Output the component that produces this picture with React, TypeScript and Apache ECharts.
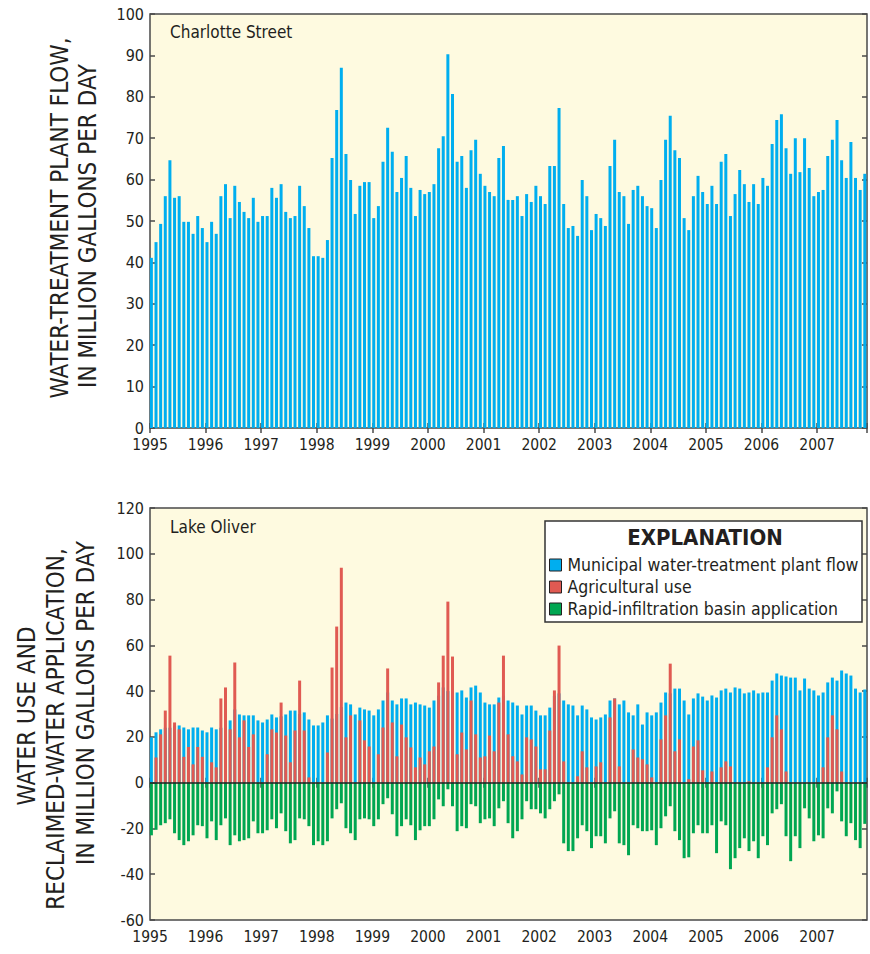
import React, { useEffect, useRef } from "react";
import * as echarts from "echarts";

const START_YEAR = 1995;
const yearTicks = [1995, 1996, 1997, 1998, 1999, 2000, 2001, 2002, 2003, 2004, 2005, 2006, 2007];

// Charlotte Street water-treatment plant flow, monthly from Jan 1995 (Mgal/d)
const charlotteStreet = [
  41.1, 44.9, 49.3, 56.0, 64.7, 55.6, 56.0, 49.8, 49.8, 46.9, 51.2, 48.3,
  44.9, 49.8, 46.9, 56.0, 58.9, 50.7, 58.5, 54.6, 52.2, 50.7, 55.6, 49.8,
  51.2, 51.2, 58.0, 55.6, 58.9, 52.2, 50.7, 51.2, 58.5, 53.6, 48.3, 41.5,
  41.5, 41.1, 45.4, 65.2, 76.8, 87.0, 66.2, 59.9, 51.7, 58.5, 59.4, 59.4,
  50.7, 53.6, 64.3, 72.5, 66.7, 57.0, 60.4, 65.7, 58.0, 51.2, 57.5, 56.5,
  57.0, 58.9, 67.6, 70.5, 90.3, 80.7, 64.3, 65.7, 58.0, 67.1, 69.6, 61.4,
  58.5, 57.0, 56.0, 65.2, 68.1, 55.1, 55.1, 56.0, 51.2, 56.5, 54.6, 58.5,
  56.0, 54.1, 63.3, 63.3, 77.3, 54.1, 48.3, 48.8, 46.4, 59.9, 56.0, 47.8,
  51.7, 50.7, 48.8, 63.3, 69.6, 57.0, 56.0, 49.3, 57.5, 58.5, 56.0, 53.6,
  53.1, 48.3, 59.9, 69.6, 75.4, 67.1, 65.2, 50.7, 47.8, 56.0, 60.9, 57.0,
  54.1, 58.5, 54.1, 64.3, 66.2, 51.2, 56.5, 62.3, 58.9, 54.6, 58.9, 54.1,
  60.4, 58.5, 68.6, 74.4, 75.8, 67.6, 61.4, 70.0, 61.8, 70.0, 62.8, 56.0,
  57.0, 57.5, 65.7, 69.6, 74.4, 64.7, 60.4, 69.1, 60.4, 57.5, 61.4,
];

// Lake Oliver, monthly from Jan 1995 (Mgal/d)
const municipal = [
  19.8, 22.0, 23.3, 24.0, 24.0, 25.0, 25.0, 24.1, 23.3, 24.1, 24.1, 22.8,
  22.0, 24.1, 23.3, 24.0, 25.0, 27.2, 32.0, 29.8, 29.4, 29.4, 29.4, 27.2,
  26.3, 27.6, 29.8, 28.5, 29.0, 29.8, 31.5, 31.5, 30.0, 30.7, 27.6, 25.0,
  25.0, 26.3, 29.4, 28.0, 30.0, 33.0, 35.0, 34.2, 29.8, 32.8, 32.0, 31.5,
  29.4, 32.0, 35.9, 39.4, 35.9, 34.2, 36.8, 36.8, 34.2, 35.0, 34.2, 33.7,
  32.8, 35.9, 38.0, 41.6, 40.0, 38.0, 39.4, 40.3, 37.2, 41.6, 42.4, 39.4,
  35.0, 34.2, 34.2, 37.2, 38.0, 35.9, 35.0, 33.7, 29.8, 33.7, 33.7, 31.5,
  29.4, 29.4, 32.8, 38.0, 39.0, 35.9, 34.2, 33.7, 29.4, 33.7, 32.0, 28.5,
  27.6, 28.5, 29.8, 35.9, 36.8, 34.2, 35.9, 30.7, 29.4, 34.2, 25.4, 30.7,
  29.4, 30.7, 35.0, 39.4, 39.0, 41.1, 41.1, 35.9, 29.8, 36.8, 39.0, 37.6,
  35.9, 38.1, 37.2, 40.3, 41.1, 39.4, 41.6, 41.1, 39.0, 39.4, 40.3, 39.0,
  39.4, 39.4, 44.6, 47.7, 46.8, 46.4, 45.9, 45.9, 40.3, 45.5, 41.1, 40.3,
  38.1, 39.4, 43.8, 45.9, 44.6, 49.0, 47.7, 46.8, 41.1, 39.4, 40.7,
];

const agricultural = [
  0, 11.0, 21.1, 31.5, 55.5, 26.3, 23.3, 11.3, 15.6, 8.0, 15.6, 11.3,
  0, 8.9, 6.7, 36.8, 41.6, 23.3, 52.5, 19.8, 27.2, 15.6, 21.1, 0,
  0, 12.4, 23.3, 21.9, 35.0, 20.6, 8.9, 22.8, 44.6, 22.8, 2.3, 0,
  0, 0, 13.2, 50.3, 68.2, 93.9, 19.8, 29.4, 0, 27.2, 18.5, 15.8,
  0, 12.4, 24.1, 49.9, 26.3, 11.5, 25.4, 19.8, 15.4, 6.7, 11.0, 8.0,
  13.7, 15.8, 43.8, 55.5, 79.1, 55.1, 12.4, 21.9, 14.5, 35.9, 21.1, 11.0,
  11.5, 20.6, 13.7, 35.0, 55.5, 21.1, 11.5, 9.3, 3.6, 19.8, 18.9, 15.8,
  5.8, 5.8, 22.8, 40.3, 59.9, 9.3, 0, 0, 2.8, 13.7, 6.7, 0,
  7.1, 8.9, 0, 28.5, 36.8, 7.1, 0, 0, 14.5, 11.0, 10.2, 8.0,
  2.3, 0, 18.9, 29.4, 52.0, 13.7, 18.9, 0, 1.5, 15.8, 18.5, 5.4,
  0, 4.9, 0, 6.7, 9.3, 7.1, 0, 0, 0, 0.6, 0, 0,
  0, 6.7, 19.8, 29.4, 23.3, 4.9, 0, 0, 0, 0, 0, 0,
  0, 6.7, 19.8, 29.4, 23.3, 4.9, 0, 0, 0, 0, 0,
];

const rapidInfiltration = [
  -23.0, -20.6, -18.6, -17.7, -16.0, -22.1, -25.1, -27.3, -25.6, -23.0, -18.6, -19.0,
  -24.3, -16.9, -25.1, -18.6, -15.6, -27.3, -23.0, -25.6, -25.1, -24.3, -16.9, -22.1,
  -22.1, -20.8, -16.0, -19.9, -13.4, -21.2, -26.5, -25.1, -15.6, -16.0, -19.0, -27.3,
  -25.6, -27.3, -25.6, -15.6, -11.6, -9.0, -19.9, -22.1, -25.1, -16.0, -15.6, -16.0,
  -19.0, -16.0, -9.4, -6.8, -13.8, -23.4, -19.0, -16.0, -18.6, -25.1, -20.8, -19.0,
  -19.0, -16.0, -7.3, -10.3, -2.9, -10.3, -21.2, -19.0, -19.9, -9.4, -10.3, -17.7,
  -16.0, -15.6, -19.0, -11.2, -8.1, -17.7, -24.3, -21.2, -16.0, -8.1, -11.6, -11.6,
  -13.4, -15.6, -11.6, -8.1, -5.1, -26.5, -29.9, -29.9, -24.3, -18.6, -21.2, -28.6,
  -23.4, -23.4, -26.5, -15.6, -12.5, -26.5, -27.3, -31.7, -18.6, -19.9, -21.2, -21.2,
  -20.8, -27.3, -19.9, -14.7, -10.3, -21.2, -25.1, -33.0, -32.6, -22.1, -18.6, -22.1,
  -22.1, -18.6, -30.8, -16.9, -18.6, -37.8, -33.0, -28.6, -24.3, -29.9, -25.6, -33.0,
  -23.4, -27.3, -13.4, -11.6, -9.4, -23.4, -34.3, -23.4, -28.6, -11.2, -15.6, -25.6,
  -23.0, -24.3, -11.2, -13.4, -3.8, -16.9, -23.4, -17.7, -25.1, -28.6, -18.0,
];

const legendNames = [
  "Municipal water-treatment plant flow",
  "Agricultural use",
  "Rapid-infiltration basin application",
];

const FONT = "'Liberation Sans Narrow', 'DejaVu Sans Condensed', 'Arial Narrow', 'Roboto Condensed', 'Liberation Sans', sans-serif";
const TEXT = "#231f20";
const BG = "#fefae0";
const FRAME = "#4a4a4a";
const BLUE = "#00aeef";
const RED = "#e05a52";
const GREEN = "#00a651";
const PX_PER_YEAR = 55.9;
const PLOT_W = 721;
const X_MAX = START_YEAR + PLOT_W / PX_PER_YEAR;

const monthX = (i: number) => START_YEAR + (i + 0.3) / 12;
const toPairs = (arr: number[]) => arr.map((v, i) => [monthX(i), v]);

function xAxes(gridIndex: number) {
  const common = {
    gridIndex,
    type: "value" as const,
    min: START_YEAR,
    max: X_MAX,
    interval: 1,
    splitLine: { show: false },
    axisLine: { show: false },
    axisTick: { inside: true, length: 5, lineStyle: { color: FRAME, width: 1.5 } },
  };
  return [
    {
      ...common,
      position: "bottom",
      axisLabel: {
        color: TEXT,
        fontFamily: FONT,
        fontSize: 15.5,
        lineHeight: 14,
        margin: 10,
        formatter: (v: number) => (yearTicks.includes(v) ? String(v) : ""),
      },
    },
    { ...common, position: "top", axisLabel: { show: false } },
  ];
}

function yAxes(gridIndex: number, min: number, max: number, interval: number) {
  const common = {
    gridIndex,
    type: "value" as const,
    min,
    max,
    interval,
    splitLine: { show: false },
    axisLine: { show: false },
    axisTick: { inside: true, length: 5, lineStyle: { color: FRAME, width: 1.5 } },
  };
  return [
    {
      ...common,
      position: "left",
      axisLabel: { color: TEXT, fontFamily: FONT, fontSize: 16, lineHeight: 13, margin: 6 },
    },
    { ...common, position: "right", axisLabel: { show: false } },
  ];
}

function vText(text: string, x: number, y: number) {
  return {
    type: "text",
    x,
    y,
    rotation: Math.PI / 2,
    style: {
      text,
      fontFamily: FONT,
      fontSize: 24,
      fill: TEXT,
      textAlign: "center",
      textVerticalAlign: "middle",
    },
  };
}

export default function App() {
  const ref = useRef<HTMLDivElement>(null);

  useEffect(() => {
    document.body.style.margin = "0";
    if (!ref.current) return;
    const chart = echarts.init(ref.current, undefined, { renderer: "svg" });
    const barCommon = { type: "bar", barWidth: 3, barGap: "-100%", xAxisIndex: 2, yAxisIndex: 2 };
    chart.setOption({
      animation: false,
      grid: [
        { left: 150, top: 14, width: PLOT_W, height: 414, show: true, backgroundColor: BG, borderColor: FRAME, borderWidth: 1.5 },
        { left: 150, top: 508, width: PLOT_W, height: 412, show: true, backgroundColor: BG, borderColor: FRAME, borderWidth: 1.5 },
      ],
      xAxis: [...xAxes(0), ...xAxes(1)],
      yAxis: [...yAxes(0, 0, 100, 10), ...yAxes(1, -60, 120, 20)],
      legend: {
        data: legendNames,
        orient: "vertical",
        left: 549,
        top: 556,
        itemWidth: 12,
        itemHeight: 12,
        itemGap: 4,
        icon: "rect",
        padding: 0,
        textStyle: { color: TEXT, fontFamily: FONT, fontSize: 17.5, padding: [0, 0, 0, 1] },
        itemStyle: { borderColor: TEXT, borderWidth: 1 },
        z: 6,
      },
      graphic: [
        { type: "rect", z: 5, shape: { x: 545, y: 521, width: 317, height: 101 }, style: { fill: "#ffffff", stroke: "#333333", lineWidth: 1.5 } },
        { type: "text", z: 6, x: 705, y: 537, style: { text: "EXPLANATION", fontFamily: FONT, fontSize: 22, fontWeight: "bold", fill: TEXT, textAlign: "center", textVerticalAlign: "middle" } },
        { type: "text", z: 6, x: 170, y: 32, style: { text: "Charlotte Street", fontFamily: FONT, fontSize: 17, fill: TEXT, textVerticalAlign: "middle" } },
        { type: "text", z: 6, x: 170, y: 527, style: { text: "Lake Oliver", fontFamily: FONT, fontSize: 17, fill: TEXT, textVerticalAlign: "middle" } },
        vText("WATER-TREATMENT PLANT FLOW,", 60, 218),
        vText("IN MILLION GALLONS PER DAY", 88, 226),
        vText("WATER USE AND", 27, 716),
        vText("RECLAIMED-WATER APPLICATION,", 56, 729),
        vText("IN MILLION GALLONS PER DAY", 86, 703),
      ],
      series: [
        {
          name: "Charlotte Street",
          type: "bar",
          barWidth: 3,
          xAxisIndex: 0,
          yAxisIndex: 0,
          itemStyle: { color: BLUE },
          data: toPairs(charlotteStreet),
        },
        { ...barCommon, name: legendNames[0], itemStyle: { color: BLUE }, data: toPairs(municipal) },
        { ...barCommon, name: legendNames[1], itemStyle: { color: RED }, data: toPairs(agricultural) },
        {
          ...barCommon,
          name: legendNames[2],
          itemStyle: { color: GREEN },
          data: toPairs(rapidInfiltration),
          markLine: {
            silent: true,
            symbol: "none",
            label: { show: false },
            lineStyle: { color: TEXT, width: 1.5, type: "solid" },
            data: [{ yAxis: 0 }],
          },
        },
      ],
    });
    return () => chart.dispose();
  }, []);

  return <div ref={ref} style={{ width: 870, height: 954 }} />;
}
